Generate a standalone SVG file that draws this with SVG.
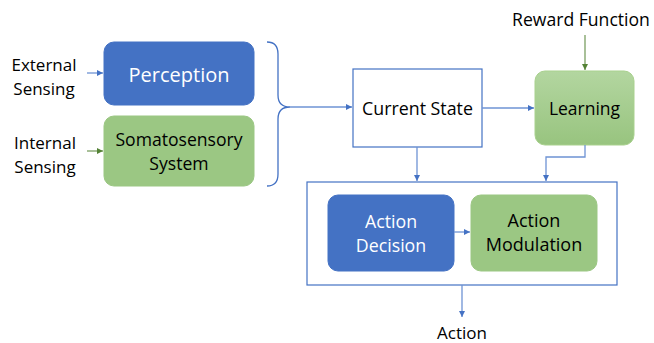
<svg xmlns="http://www.w3.org/2000/svg" width="654" height="343" viewBox="0 0 654 343">
  <defs>
    <marker id="arrow-blue" viewBox="0 0 6 6" refX="6" refY="3" markerWidth="6" markerHeight="6" markerUnits="userSpaceOnUse" orient="auto">
      <path d="M0,0 L6,3 L0,6 z" fill="#4472C4"/>
    </marker>
    <marker id="arrow-green" viewBox="0 0 6 6" refX="6" refY="3" markerWidth="6" markerHeight="6" markerUnits="userSpaceOnUse" orient="auto">
      <path d="M0,0 L6,3 L0,6 z" fill="#548235"/>
    </marker>
    <linearGradient id="learn-grad" x1="0" y1="0" x2="0" y2="1">
      <stop offset="0" stop-color="#B3D6A0"/>
      <stop offset="1" stop-color="#98C47F"/>
    </linearGradient>
  </defs>
  <style>
    text { font-family: "Open Sans", "Noto Sans", "DejaVu Sans", sans-serif; fill: #000; }
    .mid { text-anchor: middle; }
    .white { fill: #fff; }
    .blue { fill: #4472C4; stroke: #4472C4; }
    .green { fill: #9BC783; stroke: #9BC783; }
    .frame { fill: #fff; stroke: #4472C4; stroke-width: 1.2; }
    .link-blue { fill: none; stroke: #6E93D4; stroke-width: 1.3; marker-end: url(#arrow-blue); }
    .link-green { fill: none; stroke: #7A9E62; stroke-width: 1.3; marker-end: url(#arrow-green); }
  </style>

  <rect width="654" height="343" fill="#fff"/>

  <!-- input labels -->
  <g id="external-sensing">
    <text x="44" y="71" class="mid" font-size="17">External</text>
    <text x="44" y="95" class="mid" font-size="17">Sensing</text>
  </g>
  <g id="internal-sensing">
    <text x="45" y="149" class="mid" font-size="17">Internal</text>
    <text x="45" y="173" class="mid" font-size="17">Sensing</text>
  </g>

  <g id="perception">
    <rect x="104" y="42" width="150" height="63" rx="10" class="blue"/>
    <text x="179" y="82" class="mid white" font-size="20">Perception</text>
  </g>
  <g id="somatosensory">
    <rect x="104" y="116" width="150" height="70" rx="10" class="green"/>
    <text x="179" y="146" class="mid" font-size="17.6">Somatosensory</text>
    <text x="179" y="170" class="mid" font-size="17.6">System</text>
  </g>

  <g id="current-state">
    <rect x="353" y="69" width="129" height="78" class="frame"/>
    <text x="417.5" y="115" class="mid" font-size="17.8">Current State</text>
  </g>

  <g id="reward-function">
    <text x="581" y="26" class="mid" font-size="17.6">Reward Function</text>
  </g>

  <g id="learning">
    <rect x="535" y="71" width="99" height="74" rx="10" fill="url(#learn-grad)" stroke="#A9D18E"/>
    <text x="584.5" y="115" class="mid" font-size="17.5">Learning</text>
  </g>

  <g id="action-block">
    <rect x="307" y="182" width="310" height="103" class="frame"/>
  </g>
  <g id="action-decision">
    <rect x="328" y="195" width="126" height="76" rx="10" class="blue"/>
    <text x="391" y="228" class="mid white" font-size="17.8">Action</text>
    <text x="391" y="252" class="mid white" font-size="17.8">Decision</text>
  </g>
  <g id="action-modulation">
    <rect x="471" y="195" width="126" height="76" rx="10" class="green"/>
    <text x="534" y="227" class="mid" font-size="18">Action</text>
    <text x="534" y="251" class="mid" font-size="18">Modulation</text>
  </g>

  <g id="action-out">
    <text x="462" y="339" class="mid" font-size="17">Action</text>
  </g>

  <g id="connectors">
    <!-- input arrows -->
    <path d="M87,73 H103" class="link-blue"/>
    <path d="M87,151 H103" class="link-green"/>
    <!-- brace gathering both sensing paths -->
    <path d="M267,42 Q278,42 278,54 V95 Q278,107 290,107 Q278,107 278,119 V174 Q278,186 267,186" fill="none" stroke="#4472C4" stroke-width="1.3"/>
    <path d="M290,107 H352" class="link-blue"/>
    <path d="M482,108 H534" class="link-blue"/>
    <path d="M585,35 V70" class="link-green"/>
    <path d="M417,147 V181" class="link-blue"/>
    <path d="M585,145 V157 H546 V181" class="link-blue"/>
    <path d="M454,232 H470" class="link-blue"/>
    <path d="M462,285 V317" class="link-blue"/>
  </g>
</svg>
